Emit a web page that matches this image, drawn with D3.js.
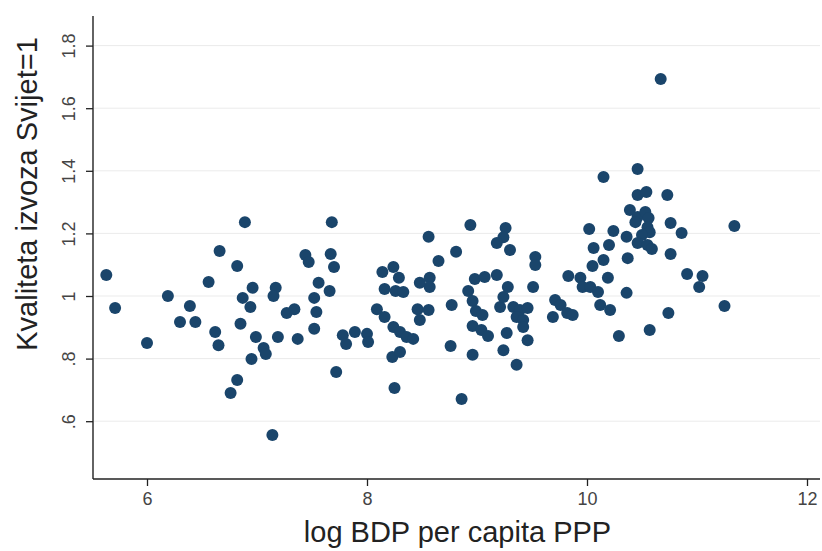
<!DOCTYPE html>
<html>
<head>
<meta charset="utf-8">
<script src="https://cdn.jsdelivr.net/npm/d3@7/dist/d3.min.js"></script>
<style>
  html, body { margin: 0; padding: 0; background: #fff; }
  svg { display: block; }
  text { font-family: "Liberation Sans", Arial, sans-serif; }
</style>
</head>
<body>
<svg id="chart" width="822" height="551"></svg>
<script>
// log GDP per capita PPP (x) and export quality, World = 1 (y)
const gdp = [
  5.63, 5.71, 6.00, 6.19, 6.39, 6.30, 6.44, 6.56, 6.66, 6.82,
  6.89, 6.62, 6.65, 6.85, 6.87, 6.94, 6.96, 7.17, 7.15, 6.99,
  7.19, 7.06, 7.08, 6.95, 6.82, 6.76, 7.14, 7.27, 7.34, 7.44,
  7.47, 7.67, 7.70, 7.68, 7.56, 7.66, 7.52, 7.54, 7.52, 7.37,
  7.78, 7.89, 8.00, 7.81, 8.01, 7.72, 8.56, 8.81, 8.65, 8.14,
  8.24, 8.29, 8.16, 8.26, 8.33, 8.48, 8.57, 8.57, 8.09, 8.16,
  8.24, 8.30, 8.36, 8.42, 8.46, 8.56, 8.48, 8.77, 8.23, 8.30,
  8.76, 8.25, 8.86, 8.96, 8.94, 8.98, 9.07, 9.18, 8.92, 8.96,
  8.99, 9.05, 8.96, 9.04, 9.10, 9.27, 9.24, 9.36, 9.21, 9.24,
  9.28, 9.33, 9.39, 9.46, 9.36, 9.42, 9.42, 9.51, 9.53, 9.53,
  9.46, 9.26, 9.24, 9.18, 9.30, 10.46, 10.15, 10.46, 10.54, 10.73,
  10.39, 10.46, 10.53, 10.56, 10.44, 10.55, 10.57, 10.50, 10.46, 10.55,
  10.59, 10.02, 10.24, 10.36, 10.20, 10.06, 10.37, 10.15, 10.05, 9.83,
  9.94, 9.96, 10.03, 10.10, 10.19, 10.36, 9.71, 9.76, 9.82, 9.87,
  9.69, 10.12, 10.21, 10.29, 10.57, 10.74, 10.76, 10.76, 10.67, 10.86,
  11.34, 10.91, 11.05, 11.02, 11.25
];
const quality = [
  1.067, 0.962, 0.850, 1.000, 0.968, 0.917, 0.917, 1.045, 1.144, 1.096,
  1.236, 0.885, 0.843, 0.911, 0.994, 0.965, 1.026, 1.026, 1.000, 0.869,
  0.869, 0.834, 0.815, 0.799, 0.732, 0.690, 0.556, 0.946, 0.958, 1.131,
  1.109, 1.134, 1.093, 1.236, 1.042, 1.016, 0.994, 0.949, 0.895, 0.863,
  0.875, 0.885, 0.879, 0.847, 0.853, 0.757, 1.189, 1.141, 1.112, 1.077,
  1.093, 1.058, 1.022, 1.016, 1.013, 1.042, 1.058, 1.029, 0.958, 0.933,
  0.901, 0.885, 0.869, 0.863, 0.958, 0.955, 0.923, 0.971, 0.805, 0.821,
  0.840, 0.706, 0.671, 0.812, 1.227, 1.054, 1.061, 1.067, 1.016, 0.984,
  0.952, 0.939, 0.904, 0.891, 0.872, 0.882, 0.827, 0.780, 0.965, 0.997,
  1.029, 0.965, 0.955, 0.962, 0.933, 0.923, 0.901, 1.029, 1.125, 1.099,
  0.859, 1.217, 1.188, 1.169, 1.147, 1.406, 1.380, 1.323, 1.332, 1.323,
  1.275, 1.252, 1.268, 1.249, 1.236, 1.220, 1.204, 1.195, 1.169, 1.163,
  1.150, 1.214, 1.208, 1.189, 1.163, 1.153, 1.121, 1.115, 1.096, 1.064,
  1.058, 1.029, 1.029, 1.013, 1.058, 1.010, 0.987, 0.971, 0.946, 0.939,
  0.933, 0.971, 0.955, 0.872, 0.891, 0.946, 1.233, 1.134, 1.693, 1.201,
  1.224, 1.070, 1.064, 1.029, 0.968
];
const xTicks = [6, 8, 10, 12];
const xTickLabels = ["6", "8", "10", "12"];
const yTicks = [0.6, 0.8, 1.0, 1.2, 1.4, 1.6, 1.8];
const yTickLabels = [".6", ".8", "1", "1.2", "1.4", "1.6", "1.8"];
const xTitle = "log BDP per capita PPP";
const yTitle = "Kvaliteta izvoza Svijet=1";

const svg = d3.select("#chart");
const axisX0 = 93, axisXEnd = 820, axisYBottom = 479, axisYTop = 16;

const x = d3.scaleLinear().domain([6, 12]).range([147, 807]);
const y = d3.scaleLinear().domain([0.6, 1.8]).range([421.2, 45.6]);

svg.append("rect").attr("width", 822).attr("height", 551).attr("fill", "#fff");

// gridlines
svg.append("g").selectAll("line").data(yTicks).join("line")
  .attr("x1", axisX0 + 1).attr("x2", axisXEnd)
  .attr("y1", d => y(d)).attr("y2", d => y(d))
  .attr("stroke", "#ebebeb").attr("stroke-width", 1);

// y axis
const yAxis = d3.axisLeft(y).tickValues(yTicks)
  .tickFormat((d, i) => yTickLabels[i]).tickSize(7).tickPadding(4);
const gy = svg.append("g").attr("transform", `translate(${axisX0},0)`).call(yAxis);
gy.select(".domain").remove();
gy.selectAll(".tick line").attr("stroke", "#222").attr("stroke-width", 1.3);
gy.selectAll(".tick text")
  .attr("fill", "#444").attr("font-size", 18)
  .attr("x", null).attr("dy", null)
  .attr("text-anchor", "middle")
  .attr("transform", "translate(-18,0) rotate(-90)");

svg.append("line").attr("x1", axisX0).attr("x2", axisX0)
  .attr("y1", axisYTop).attr("y2", axisYBottom)
  .attr("stroke", "#222").attr("stroke-width", 1.4);

// x axis
const xAxis = d3.axisBottom(x).tickValues(xTicks)
  .tickFormat((d, i) => xTickLabels[i]).tickSize(7).tickPadding(6);
const gx = svg.append("g").attr("transform", `translate(0,${axisYBottom})`).call(xAxis);
gx.select(".domain").remove();
gx.selectAll(".tick line").attr("stroke", "#222").attr("stroke-width", 1.3);
gx.selectAll(".tick text").attr("fill", "#444").attr("font-size", 18);

svg.append("line").attr("x1", axisX0).attr("x2", axisXEnd)
  .attr("y1", axisYBottom).attr("y2", axisYBottom)
  .attr("stroke", "#222").attr("stroke-width", 1.4);

// titles
svg.append("text").attr("x", (axisX0 + axisXEnd) / 2 + 1).attr("y", 542)
  .attr("text-anchor", "middle").attr("font-size", 29).attr("fill", "#222")
  .text(xTitle);
svg.append("text")
  .attr("transform", "translate(37,194) rotate(-90)")
  .attr("text-anchor", "middle").attr("font-size", 29).attr("fill", "#222")
  .text(yTitle);

// points
const pts = gdp.map((g, i) => ({ g, q: quality[i] }));
svg.append("g").selectAll("circle").data(pts).join("circle")
  .attr("cx", d => x(d.g)).attr("cy", d => y(d.q))
  .attr("r", 6).attr("fill", "#1a456b");
</script>
</body>
</html>
